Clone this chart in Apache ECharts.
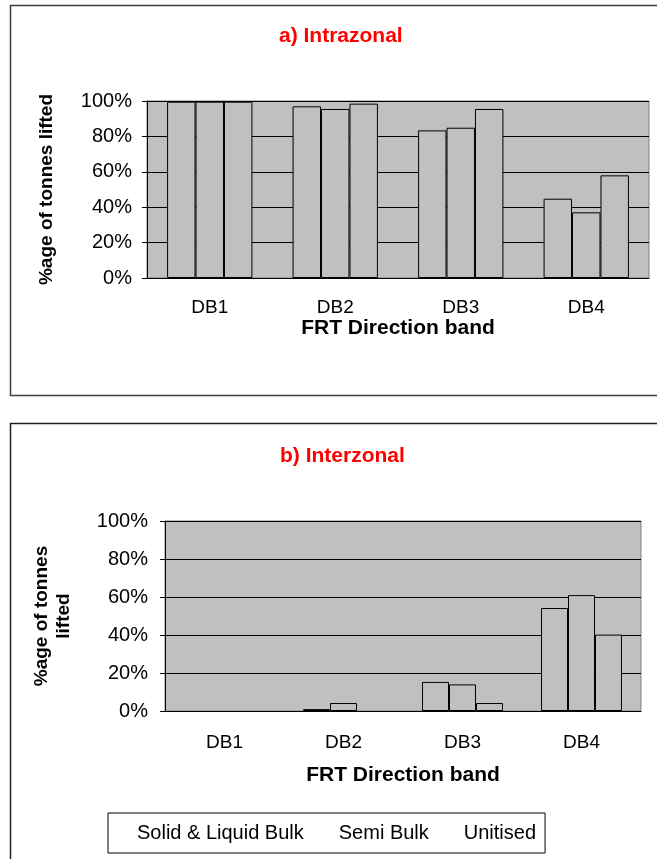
<!DOCTYPE html>
<html>
<head>
<meta charset="utf-8">
<script src="https://cdn.jsdelivr.net/npm/echarts@6/dist/echarts.min.js"></script>
<style>
  html, body { margin: 0; padding: 0; background: #fff; }
  #main { width: 657px; height: 859px; }
</style>
</head>
<body>
<div id="main"></div>
<script>
// bands on the x axis
let bands = ["DB1", "DB2", "DB3", "DB4"]
let seriesNames = ["Solid & Liquid Bulk", "Semi Bulk", "Unitised"]
// a) intrazonal, % of tonnes lifted
let intraSolid = [99.6, 97.0, 83.4, 44.8]
let intraSemi = [99.6, 95.5, 84.9, 37.1]
let intraUnit = [99.6, 98.5, 95.5, 58.0]
// b) interzonal
let interSolid = [0, 1.0, 15.3, 54.2]
let interSemi = [0, 4.2, 14.0, 61.0]
let interUnit = [0, 0, 4.2, 40.2]
let yTicks = [0, 20, 40, 60, 80, 100]

var myChart = echarts.init(document.getElementById('main'))

const font = 'Liberation Sans, Arial, sans-serif'
const barStyle = { color: '#c0c0c0', borderColor: '#000', borderWidth: 1 }

function bar(name, data, idx) {
    return {
        name: name,
        type: 'bar',
        xAxisIndex: idx,
        yAxisIndex: idx,
        // zero bars are not drawn in the original
        data: data.map(v => v === 0 ? '-' : v),
        barGap: '0%',
        barCategoryGap: '32%',
        itemStyle: barStyle,
        emphasis: { disabled: true }
    }
}

function xAxis(idx, labelMargin, nameGap) {
    return {
        type: 'category',
        gridIndex: idx,
        data: bands,
        axisLine: { lineStyle: { color: '#000' } },
        axisTick: { length: 5, lineStyle: { color: '#000' } },
        axisLabel: { color: '#000', fontSize: 19, fontFamily: font, margin: labelMargin },
        name: 'FRT Direction band',
        nameLocation: 'middle',
        nameGap: nameGap,
        nameTextStyle: { color: '#000', fontSize: 21, fontWeight: 'bold', fontFamily: font }
    }
}

function yAxis(idx, name, nameGap, labelMargin) {
    return {
        type: 'value',
        gridIndex: idx,
        min: yTicks[0],
        max: yTicks[yTicks.length - 1],
        interval: 20,
        axisLine: { show: true, lineStyle: { color: '#000' } },
        axisTick: { show: true, length: 5, lineStyle: { color: '#000' } },
        axisLabel: { color: '#000', fontSize: 20, fontFamily: font, margin: labelMargin, formatter: '{value}%' },
        splitLine: { lineStyle: { color: '#000', width: 1 } },
        name: name,
        nameLocation: 'middle',
        nameRotate: 90,
        nameGap: nameGap,
        nameTextStyle: { color: '#000', fontSize: 19, fontWeight: 'bold', fontFamily: font, lineHeight: 22 }
    }
}

var option = {
    animation: false,
    backgroundColor: '#fff',
    graphic: [
        { type: 'rect', shape: { x: 10.5, y: 5.5, width: 700, height: 390 }, style: { fill: 'none', stroke: '#404040', lineWidth: 1.5 }, z: -10 },
        { type: 'rect', shape: { x: 10.5, y: 423.5, width: 700, height: 500 }, style: { fill: 'none', stroke: '#202020', lineWidth: 1.5 }, z: -10 }
    ],
    title: [
        { text: 'a) Intrazonal', left: 274, top: 21, textStyle: { color: '#ff0000', fontSize: 21, fontWeight: 'bold', fontFamily: font } },
        { text: 'b) Interzonal', left: 275, top: 441, textStyle: { color: '#ff0000', fontSize: 21, fontWeight: 'bold', fontFamily: font } }
    ],
    legend: {
        data: seriesNames,
        left: 108,
        top: 813,
        padding: [9, 9, 9, 9],
        itemWidth: 14,
        itemHeight: 14,
        itemGap: 15,
        borderColor: '#000',
        borderWidth: 1,
        itemStyle: { opacity: 0 },
        textStyle: { color: '#000', fontSize: 20, fontFamily: font, lineHeight: 22 },
        selectedMode: false
    },
    grid: [
        { left: 147, top: 101, right: 8, height: 177, show: true, backgroundColor: '#c0c0c0', borderColor: '#808080', borderWidth: 1 },
        { left: 165, top: 521, right: 16, height: 190, show: true, backgroundColor: '#c0c0c0', borderColor: '#808080', borderWidth: 1 }
    ],
    xAxis: [xAxis(0, 20, 37), xAxis(1, 22, 54)],
    yAxis: [
        yAxis(0, '%age of tonnes lifted', 89, 15),
        yAxis(1, '%age of tonnes\nlifted', 90, 17)
    ],
    series: [
        bar(seriesNames[0], intraSolid, 0),
        bar(seriesNames[1], intraSemi, 0),
        bar(seriesNames[2], intraUnit, 0),
        bar(seriesNames[0], interSolid, 1),
        bar(seriesNames[1], interSemi, 1),
        bar(seriesNames[2], interUnit, 1)
    ]
}

myChart.setOption(option)
</script>
</body>
</html>
